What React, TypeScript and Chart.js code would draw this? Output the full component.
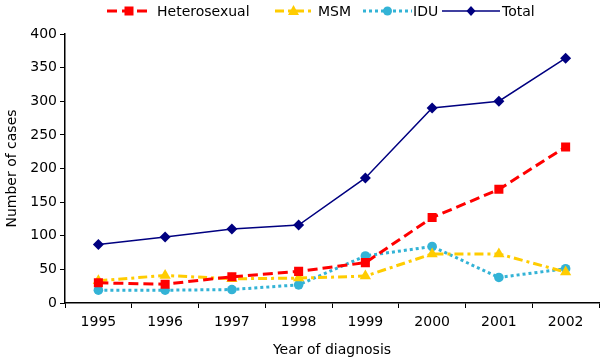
import React, { useEffect, useRef } from "react";
import { Chart, registerables } from "chart.js";
Chart.register(...registerables);

const years = ["1995", "1996", "1997", "1998", "1999", "2000", "2001", "2002"];
const heterosexual = [30, 28, 39, 47, 60, 127, 169, 232];
const msm = [33, 41, 36, 37, 40, 73, 73, 46];
const idu = [19, 19, 20, 27, 70, 84, 38, 51];
const total = [87, 98, 110, 116, 186, 290, 300, 364];

const FONT = "'DejaVu Sans', Verdana, sans-serif";

const legendItems = [
  { label: "Heterosexual", color: "#FF0000", dash: [10, 5], width: 3, style: "rect", x0: 107, x1: 151, tx: 157 },
  { label: "MSM", color: "#FFCC00", dash: [9, 4, 3, 4], width: 3, style: "triangle", x0: 275, x1: 312, tx: 318 },
  { label: "IDU", color: "#33B3D6", dash: [3, 3], width: 3, style: "circle", x0: 363, x1: 412, tx: 413 },
  { label: "Total", color: "#000080", dash: [], width: 1.5, style: "rectRot", x0: 442, x1: 500, tx: 502 },
];

function drawMarker(ctx: CanvasRenderingContext2D, style: string, x: number, y: number) {
  ctx.beginPath();
  if (style === "rect") {
    ctx.rect(x - 4.5, y - 4.5, 9, 9);
  } else if (style === "triangle") {
    ctx.moveTo(x, y - 6);
    ctx.lineTo(x + 5.5, y + 4);
    ctx.lineTo(x - 5.5, y + 4);
    ctx.closePath();
  } else if (style === "circle") {
    ctx.arc(x, y, 4.5, 0, Math.PI * 2);
  } else {
    ctx.moveTo(x, y - 5);
    ctx.lineTo(x + 4.5, y);
    ctx.lineTo(x, y + 5);
    ctx.lineTo(x - 4.5, y);
    ctx.closePath();
  }
  ctx.fill();
}

const legendPlugin = {
  id: "customLegend",
  afterDraw(chart: any) {
    const ctx = chart.ctx;
    const y = 11;
    ctx.save();
    legendItems.forEach((it) => {
      ctx.beginPath();
      ctx.setLineDash(it.dash);
      ctx.strokeStyle = it.color;
      ctx.lineWidth = it.width;
      ctx.moveTo(it.x0, y);
      ctx.lineTo(it.x1, y);
      ctx.stroke();
      ctx.setLineDash([]);
      ctx.fillStyle = it.color;
      drawMarker(ctx, it.style, (it.x0 + it.x1) / 2, y);
      ctx.fillStyle = "#000";
      ctx.font = `14px ${FONT}`;
      ctx.textBaseline = "middle";
      ctx.textAlign = "left";
      ctx.fillText(it.label, it.tx, y + 1);
    });
    ctx.restore();
  },
};

export default function App() {
  const ref = useRef<HTMLCanvasElement>(null);
  useEffect(() => {
    document.body.style.margin = "0";
    const c = new Chart(ref.current!, {
      type: "line",
      data: {
        labels: years,
        datasets: [
          {
            label: "Heterosexual", data: heterosexual, borderColor: "#FF0000", backgroundColor: "#FF0000",
            borderWidth: 3, borderDash: [10, 5], pointStyle: "rect", pointRadius: 6.4, pointBorderWidth: 0, tension: 0,
          },
          {
            label: "MSM", data: msm, borderColor: "#FFCC00", backgroundColor: "#FFCC00",
            borderWidth: 3, borderDash: [9, 4, 3, 4], pointStyle: "triangle", pointRadius: 6.5, pointBorderWidth: 0, tension: 0,
          },
          {
            label: "IDU", data: idu, borderColor: "#33B3D6", backgroundColor: "#33B3D6",
            borderWidth: 3, borderDash: [3, 3], pointStyle: "circle", pointRadius: 4.8, pointBorderWidth: 0, tension: 0,
          },
          {
            label: "Total", data: total, borderColor: "#000080", backgroundColor: "#000080",
            borderWidth: 1.5, pointStyle: "rectRot", pointRadius: 5.5, pointBorderWidth: 0, tension: 0,
          },
        ],
      },
      options: {
        animation: false,
        responsive: false,
        layout: { autoPadding: false, padding: { top: 34, right: 1, left: 4, bottom: 0 } },
        plugins: { legend: { display: false }, tooltip: { enabled: false } },
        scales: {
          x: {
            offset: true,
            afterFit: (s: any) => { s.height = 56; s.paddingLeft = 0; s.paddingRight = 0; },
            grid: { display: true, drawOnChartArea: false, drawTicks: true, tickLength: 5, color: "#000", offset: true },
            border: { display: true, color: "#000", width: 1.5 },
            ticks: { color: "#000", font: { family: FONT, size: 14 }, padding: 6, maxRotation: 0 },
            title: { display: true, text: "Year of diagnosis", color: "#000", font: { family: FONT, size: 14 }, padding: { top: 0, bottom: 0 } },
          },
          y: {
            min: 0, max: 400,
            afterFit: (s: any) => { s.width = 61; },
            grid: { display: true, drawOnChartArea: false, drawTicks: true, tickLength: 5, color: "#000" },
            border: { display: true, color: "#000", width: 1.5 },
            ticks: { stepSize: 50, color: "#000", font: { family: FONT, size: 14 }, padding: 3 },
            title: { display: true, text: "Number of cases", color: "#000", font: { family: FONT, size: 14 }, padding: { top: 0, bottom: 6 } },
          },
        },
      },
      plugins: [legendPlugin],
    });
    return () => c.destroy();
  }, []);
  return <canvas ref={ref} width={600} height={359} style={{ display: "block" }} />;
}
